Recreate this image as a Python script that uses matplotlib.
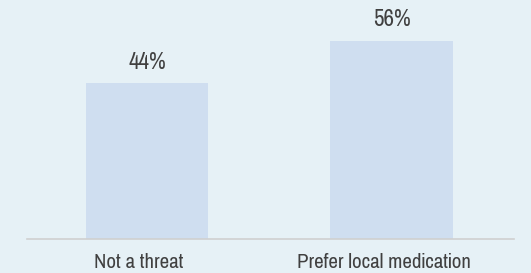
import matplotlib
matplotlib.use('Agg')
import matplotlib.pyplot as plt
from matplotlib.transforms import ScaledTranslation

categories = ['Not a threat', 'Prefer local medication']
values = [44, 56]
labels = ['44%', '56%']

bg = '#e6f1f6'
bar_color = '#cfdef0'
text_color = '#404040'

plt.rcParams['font.family'] = ['Pragati Narrow', 'Roboto Condensed', 'DejaVu Sans']

fig = plt.figure(figsize=(5.31, 2.73), dpi=100, facecolor=bg)
ax = fig.add_axes([27 / 531, 1 - 239 / 273, 487 / 531, 239 / 273])
ax.set_facecolor(bg)

x = list(range(len(categories)))
ax.bar(x, values, width=0.5, color=bar_color)
for xi, v, lab in zip(x, values, labels):
    ax.text(xi, v + 4.1, lab, ha='center', va='baseline', fontsize=18, color=text_color)

ax.set_xlim(-0.49, 1.5)
ax.set_ylim(0, 67.5)
ax.set_xticks(x)
ax.set_xticklabels(categories, fontsize=16.3, color=text_color, va='baseline')
ax.tick_params(axis='x', length=0, pad=21)
# category labels sit a little left of the bar centres in the original
shift = ScaledTranslation(-8 / 100, 0, fig.dpi_scale_trans)
for t in ax.get_xticklabels():
    t.set_transform(t.get_transform() + shift)
ax.set_yticks([])
for side in ['top', 'right', 'left']:
    ax.spines[side].set_visible(False)
ax.spines['bottom'].set_color('#d0d0d0')
ax.spines['bottom'].set_linewidth(1.2)

fig.savefig('out.png', dpi=100, facecolor=bg)
